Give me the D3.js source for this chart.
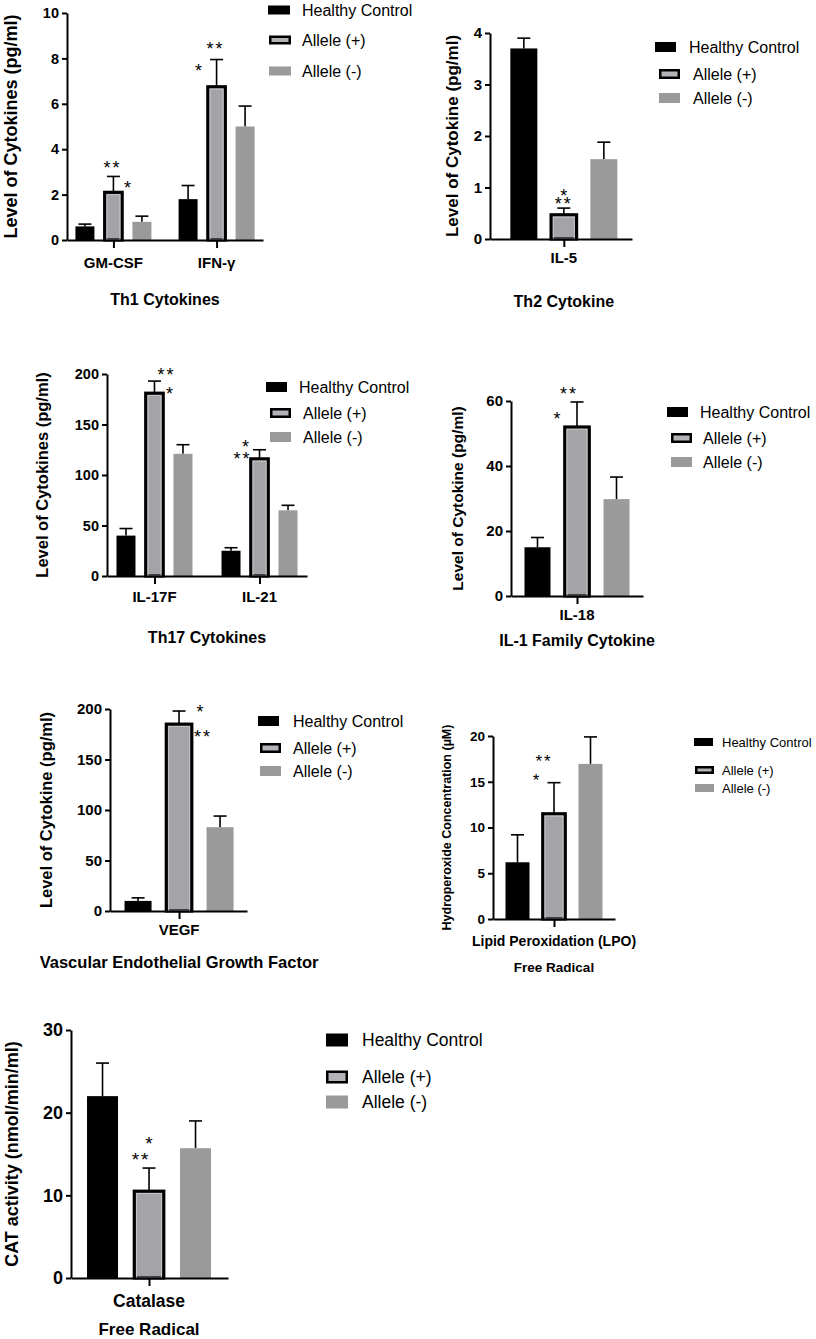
<!DOCTYPE html>
<html>
<head>
<meta charset="utf-8">
<script src="https://cdn.jsdelivr.net/npm/d3@7"></script>
<style>
  body { margin: 0; background: #fff; }
  svg { display: block; }
  text { font-family: 'Liberation Sans', Arial, sans-serif; fill: #000; }
</style>
</head>
<body>
<svg id="chart" width="816" height="1339"></svg>
<script>
// groups shown in every panel
const groups = ['Healthy Control', 'Allele (+)', 'Allele (-)']

// Th1 cytokines (means / SD per category, in group order)
const th1Categories = ['GM-CSF', 'IFN-γ']
const th1Means = [[0.6, 2.1, 0.8], [1.8, 6.75, 5.0]]
const th1Errors = [[0.1, 0.7, 0.25], [0.6, 1.2, 0.9]]
const th1Ticks = [0, 2, 4, 6, 8, 10]

// Th2 cytokine
const th2Categories = ['IL-5']
const th2Means = [[3.7, 0.47, 1.55]]
const th2Errors = [[0.2, 0.13, 0.33]]
const th2Ticks = [0, 1, 2, 3, 4]

// Th17 cytokines
const th17Categories = ['IL-17F', 'IL-21']
const th17Means = [[40, 181, 121], [25, 116, 65]]
const th17Errors = [[7, 12, 9], [3, 9, 5]]
const th17Ticks = [0, 50, 100, 150, 200]

// IL-1 family cytokine
const il1Categories = ['IL-18']
const il1Means = [[15, 52, 29.8]]
const il1Errors = [[3, 7.7, 6.8]]
const il1Ticks = [0, 20, 40, 60]

// VEGF
const vegfCategories = ['VEGF']
const vegfMeans = [[10, 185, 83]]
const vegfErrors = [[3, 13, 11]]
const vegfTicks = [0, 50, 100, 150, 200]

// lipid peroxidation
const lpoCategories = ['Lipid Peroxidation (LPO)']
const lpoMeans = [[6.2, 11.5, 16.95]]
const lpoErrors = [[3.0, 3.4, 2.95]]
const lpoTicks = [0, 5, 10, 15, 20]

// catalase
const catCategories = ['Catalase']
const catMeans = [[22, 10.5, 15.7]]
const catErrors = [[4, 2.8, 3.3]]
const catTicks = [0, 10, 20, 30]

const svg = d3.select('#chart')

const panels = [
  {
    cats: th1Categories, means: th1Means, errs: th1Errors, ticks: th1Ticks, yMax: 10,
    left: 67, right: 263, top: 13, bottom: 240, pad: 0.45, align: 0.5, step: 28.5, barW: 19,
    tickFont: 14.5, yLabel: 'Level of Cytokines (pg/ml)', yLabelX: 11, yLabelFont: 18,
    catFont: 15, catY: 268, titles: ['Th1 Cytokines'], titleYs: [305], titleFont: 16,
    legend: { rectX: [268, 269, 269], textX: 302, rows: [10, 40, 71], w: 22, h: 9, font: 16 },
    starFont: 18,
    stars: [
      { cat: 0, text: '**', dx: -1, dy: -13 }, { cat: 0, text: '*', dx: 14, dy: 7 },
      { cat: 1, text: '**', dx: -1, dy: -15 }, { cat: 1, text: '*', dx: -18, dy: 7 }
    ]
  },
  {
    cats: th2Categories, means: th2Means, errs: th2Errors, ticks: th2Ticks, yMax: 4,
    left: 490, right: 632, top: 33, bottom: 239, pad: 0.5, align: 0.52, step: 40, barW: 27,
    tickFont: 15, yLabel: 'Level of Cytokine (pg/ml)', yLabelX: 452, yLabelFont: 17,
    catFont: 15, catY: 263, titles: ['Th2 Cytokine'], titleYs: [307], titleFont: 16,
    legend: { rectX: [655, 659, 659], textX: [689, 693, 693], rows: [47, 74, 98], w: 21, h: 10, font: 16 },
    starFont: 18,
    stars: [
      { cat: 0, text: '*', dx: 0, dy: -16 }, { cat: 0, text: '**', dx: 0, dy: -8 }
    ]
  },
  {
    cats: th17Categories, means: th17Means, errs: th17Errors, ticks: th17Ticks, yMax: 200,
    left: 107, right: 307, top: 374, bottom: 576, pad: 0.452, align: 0.5, step: 28.5, barW: 19,
    tickFont: 14.5, yLabel: 'Level of Cytokines (pg/ml)', yLabelX: 42, yLabelFont: 16.5,
    catFont: 15, catY: 602, titles: ['Th17 Cytokines'], titleYs: [643], titleFont: 16,
    legend: { rectX: [266, 270, 270], textX: [299, 303, 303], rows: [387, 413, 437], w: 21, h: 10, font: 16 },
    starFont: 18,
    stars: [
      { cat: 0, text: '**', dx: 12, dy: -10 }, { cat: 0, text: '*', dx: 15, dy: 9 },
      { cat: 1, text: '*', dx: -14, dy: -7 }, { cat: 1, text: '**', dx: -17, dy: 5 }
    ]
  },
  {
    cats: il1Categories, means: il1Means, errs: il1Errors, ticks: il1Ticks, yMax: 60,
    left: 511, right: 643, top: 401, bottom: 596, pad: 0.5, align: 0.5, step: 39.5, barW: 26,
    tickFont: 15, yLabel: 'Level of Cytokine (pg/ml)', yLabelX: 457, yLabelFont: 15.5,
    catFont: 15, catY: 620, titles: ['IL-1 Family Cytokine'], titleYs: [646], titleFont: 16,
    legend: { rectX: [667, 671, 671], textX: [700, 703, 703], rows: [412, 438, 462], w: 21, h: 10, font: 16 },
    starFont: 18,
    stars: [
      { cat: 0, text: '**', dx: -8, dy: -12 }, { cat: 0, text: '*', dx: -20, dy: 13 }
    ]
  },
  {
    cats: vegfCategories, means: vegfMeans, errs: vegfErrors, ticks: vegfTicks, yMax: 200,
    left: 110, right: 247, top: 709, bottom: 911, pad: 0.5, align: 0.504, step: 41, barW: 27,
    tickFont: 15, yLabel: 'Level of Cytokine (pg/ml)', yLabelX: 46, yLabelFont: 16.5,
    catFont: 15, catY: 935, titles: ['Vascular Endothelial Growth Factor'], titleYs: [968], titleFont: 16.5,
    legend: { rectX: [258, 260, 260], textX: [293, 293, 293], rows: [721, 748, 771], w: 21, h: 10, font: 16 },
    starFont: 18,
    stars: [
      { cat: 0, text: '*', dx: 21, dy: -3 }, { cat: 0, text: '**', dx: 24, dy: 22 }
    ]
  },
  {
    cats: lpoCategories, means: lpoMeans, errs: lpoErrors, ticks: lpoTicks, yMax: 20,
    left: 493, right: 615, top: 736, bottom: 919, pad: 0.5, align: 0.5, step: 36.5, barW: 24,
    tickFont: 13.5, yLabel: 'Hydroperoxide Concentration (µM)', yLabelX: 447, yLabelFont: 12.5,
    catFont: 14, catY: 946, titles: ['Free Radical'], titleYs: [972], titleFont: 13.5,
    legend: { rectX: [694, 695, 695], textX: [722, 722, 722], rows: [742, 770, 788], w: 19, h: 8, font: 13 },
    starFont: 17,
    stars: [
      { cat: 0, text: '**', dx: -10, dy: -25 }, { cat: 0, text: '*', dx: -18, dy: -6 }
    ]
  },
  {
    cats: catCategories, means: catMeans, errs: catErrors, ticks: catTicks, yMax: 30,
    left: 71, right: 228, top: 1030, bottom: 1278, pad: 0.5, align: 0.497, step: 46.5, barW: 31,
    tickFont: 18, yLabel: 'CAT activity (nmol/min/ml)', yLabelX: 12, yLabelFont: 18,
    catFont: 17.5, catY: 1307, titles: ['Free Radical'], titleYs: [1335], titleFont: 17,
    legend: { rectX: [326, 326, 326], textX: [362, 362, 362], rows: [1040, 1077, 1102], w: 22, h: 13, font: 17.5 },
    starFont: 19,
    stars: [
      { cat: 0, text: '*', dx: 0, dy: -29 }, { cat: 0, text: '**', dx: -8, dy: -13 }
    ]
  }
]

const fills = { 'Healthy Control': '#000000', 'Allele (+)': '#a4a4a8', 'Allele (-)': '#9a9a9a' }

function drawPanel (p) {
  const g = svg.append('g')

  const y = d3.scaleLinear().domain([0, p.yMax]).range([p.bottom, p.top])
  const x = d3.scalePoint().domain(p.cats).range([p.left, p.right]).padding(p.pad).align(p.align)
  const pi = 1 - p.barW / p.step
  const inner = d3.scaleBand()
    .domain(groups)
    .range([-1.5 * p.step, 1.5 * p.step])
    .paddingInner(pi)
    .paddingOuter(pi / 2)

  // rows of bar data
  const rows = []
  p.cats.forEach((c, ci) => {
    groups.forEach((grp, gi) => {
      rows.push({ cat: c, group: grp, mean: p.means[ci][gi], err: p.errs[ci][gi] })
    })
  })

  // error bars (drawn first so bar tops sit over the stem)
  const cap = 6.5
  rows.forEach(d => {
    const cx = x(d.cat) + inner(d.group) + inner.bandwidth() / 2
    const yTop = y(d.mean + d.err)
    g.append('line')
      .attr('x1', cx).attr('x2', cx)
      .attr('y1', y(d.mean)).attr('y2', yTop)
      .attr('stroke', '#000').attr('stroke-width', 1.6)
    g.append('line')
      .attr('x1', cx - cap).attr('x2', cx + cap)
      .attr('y1', yTop).attr('y2', yTop)
      .attr('stroke', '#000').attr('stroke-width', 1.6)
  })

  // bars
  rows.forEach(d => {
    const bx = x(d.cat) + inner(d.group)
    const bw = inner.bandwidth()
    if (d.group === 'Allele (+)') {
      g.append('rect')
        .attr('x', bx + 0.75).attr('y', y(d.mean))
        .attr('width', bw - 1.5).attr('height', y(0) - y(d.mean))
        .attr('fill', fills[d.group])
        .attr('stroke', '#000').attr('stroke-width', 3.2)
      // faint lighter inner edge
      g.append('rect')
        .attr('x', bx + 3).attr('y', y(d.mean) + 2.3)
        .attr('width', Math.max(0, bw - 6)).attr('height', Math.max(0, y(0) - y(d.mean) - 2.3))
        .attr('fill', 'none')
        .attr('stroke', '#c4c4c8').attr('stroke-width', 1)
    } else {
      g.append('rect')
        .attr('x', bx).attr('y', y(d.mean))
        .attr('width', bw).attr('height', y(0) - y(d.mean))
        .attr('fill', fills[d.group])
    }
  })

  // y axis
  const yAxis = g.append('g')
    .attr('transform', `translate(${p.left},0)`)
    .call(d3.axisLeft(y).tickValues(p.ticks).tickFormat(d3.format('~g'))
      .tickSize(5).tickSizeOuter(0).tickPadding(3))
  yAxis.select('.domain').attr('stroke-width', 2)
  yAxis.selectAll('.tick line').attr('stroke-width', 2)
  yAxis.selectAll('.tick text')
    .style('font-family', "'Liberation Sans', Arial, sans-serif")
    .style('font-size', p.tickFont + 'px')
    .style('font-weight', 'bold')

  // x axis
  const xAxis = g.append('g')
    .attr('transform', `translate(0,${p.bottom})`)
    .call(d3.axisBottom(x).tickSize(8).tickSizeOuter(0).tickFormat(''))
  xAxis.select('.domain').attr('stroke-width', 2)
  xAxis.selectAll('.tick line').attr('stroke-width', 2)

  // category labels
  g.selectAll('.cat-label')
    .data(p.cats)
    .enter()
    .append('text')
    .attr('class', 'cat-label')
    .attr('x', d => x(d))
    .attr('y', p.catY)
    .attr('text-anchor', 'middle')
    .style('font-size', p.catFont + 'px')
    .style('font-weight', 'bold')
    .text(d => d)

  // panel title(s)
  const titleX = p.cats.length === 1 ? x(p.cats[0]) : (x(p.cats[0]) + x(p.cats[p.cats.length - 1])) / 2
  p.titles.forEach((t, i) => {
    g.append('text')
      .attr('x', titleX)
      .attr('y', p.titleYs[i])
      .attr('text-anchor', 'middle')
      .style('font-size', p.titleFont + 'px')
      .style('font-weight', 'bold')
      .text(t)
  })

  // y label
  g.append('text')
    .attr('transform', `translate(${p.yLabelX},${(p.top + p.bottom) / 2}) rotate(-90)`)
    .attr('text-anchor', 'middle')
    .attr('dominant-baseline', 'central')
    .style('font-size', p.yLabelFont + 'px')
    .style('font-weight', 'bold')
    .text(p.yLabel)

  // significance stars above the Allele (+) bars, one text per panel
  const starText = g.append('text')
    .attr('text-anchor', 'middle')
    .style('font-size', p.starFont + 'px')
  p.stars.forEach(s => {
    const ci = s.cat
    const cx = x(p.cats[ci]) + inner('Allele (+)') + inner.bandwidth() / 2
    const cy = y(p.means[ci][1] + p.errs[ci][1])
    starText.append('tspan')
      .attr('x', cx + s.dx)
      .attr('y', cy + s.dy + p.starFont * 0.57)
      .style('letter-spacing', s.text.length > 1 ? '2px' : '0px')
      .text(s.text)
  })

  // legend
  const lg = p.legend
  groups.forEach((grp, i) => {
    const rx = lg.rectX[i]
    const tx = Array.isArray(lg.textX) ? lg.textX[i] : lg.textX
    const cy = lg.rows[i]
    if (grp === 'Allele (+)') {
      g.append('rect')
        .attr('x', rx + 1.25).attr('y', cy - lg.h / 2 + 1.25)
        .attr('width', lg.w - 2.5).attr('height', lg.h - 2.5)
        .attr('fill', '#b4b4b8')
        .attr('stroke', '#000').attr('stroke-width', 2.5)
    } else {
      g.append('rect')
        .attr('x', rx).attr('y', cy - lg.h / 2)
        .attr('width', lg.w).attr('height', lg.h)
        .attr('fill', fills[grp])
    }
    g.append('text')
      .attr('x', tx)
      .attr('y', cy)
      .attr('dominant-baseline', 'central')
      .style('font-size', lg.font + 'px')
      .text(grp)
  })
}

panels.forEach(drawPanel)
</script>
</body>
</html>
